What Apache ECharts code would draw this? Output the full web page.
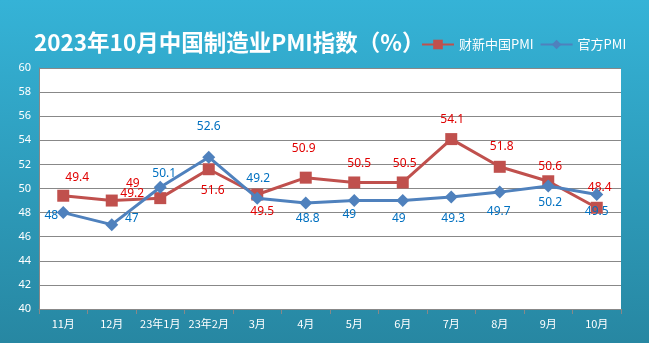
<!DOCTYPE html>
<html><head><meta charset="utf-8">
<script src="https://cdn.jsdelivr.net/npm/echarts@6/dist/echarts.min.js"></script>
<style>html,body{margin:0;padding:0;}#c{width:649px;height:343px;}</style>
</head><body><div id="c"></div>
<script>
const categories = ['11月','12月','23年1月','23年2月','3月','4月','5月','6月','7月','8月','9月','10月'];
const caixinPMI = [49.4, 49, 49.2, 51.6, 49.5, 50.9, 50.5, 50.5, 54.1, 51.8, 50.6, 48.4];
const officialPMI = [48, 47, 50.1, 52.6, 49.2, 48.8, 49, 49, 49.3, 49.7, 50.2, 49.5];
const yTicks = {min: 40, max: 60, interval: 2};
// label offsets (styling only)
const redOff = [[14,-18],[21,-17],[-28,-5],[4,21],[5,17],[-2,-29],[5,-19],[2,-19],[1,-20],[2,-20],[2,-15],[3,-20]];
const blueOff = [[-12,3],[20,-6],[4,-14],[0,-31],[1,-20],[2,16],[-5,14],[-4,18],[2,22],[-1,19],[2,16],[0,17]];

function mk(vals, offs) {
  return vals.map((v, i) => ({value: v, label: {offset: offs[i]}}));
}
const chart = echarts.init(document.getElementById('c'));
chart.setOption({
  animation: false,
  backgroundColor: {type:'linear', x:0, y:0, x2:0, y2:1, colorStops:[{offset:0,color:'#35b3d7'},{offset:1,color:'#2787a2'}]},
  title: {text: '2023年10月中国制造业PMI指数（%）', left: 29, top: 26,
    textStyle: {color:'#fff', fontSize: 22.5, fontWeight:'bold', fontFamily:'"Noto Sans CJK SC", sans-serif'}},
  legend: {left: 416, top: 33, itemWidth: 32, itemHeight: 12, itemGap: 6,
    textStyle: {color:'#fff', fontSize: 13, fontFamily:'"Noto Sans CJK SC", sans-serif'},
    data: ['财新中国PMI','官方PMI']},
  grid: {left: 39, right: 28, top: 68, bottom: 34, show: true, backgroundColor:'#fff', borderWidth: 0},
  xAxis: {type:'category', data: categories, boundaryGap: true,
    axisLine: {lineStyle:{color:'#888'}}, axisTick: {show:true, lineStyle:{color:'#888'}, length: 5},
    axisLabel: {color:'#fff', fontSize: 11, margin: 9, fontFamily:'"Noto Sans CJK SC", sans-serif', interval: 0}},
  yAxis: {type:'value', min: yTicks.min, max: yTicks.max, interval: yTicks.interval,
    axisLine: {show:true, lineStyle:{color:'#888'}}, axisTick:{show:false},
    splitLine: {lineStyle:{color:'#888', width: 1}},
    axisLabel: {color:'#fff', fontSize: 11, margin: 8, fontFamily:'"Noto Sans", sans-serif'}},
  series: [
    {name:'财新中国PMI', type:'line', data: mk(caixinPMI, redOff), symbol:'rect', symbolSize: 12,
      itemStyle:{color:'#c0504d'}, lineStyle:{color:'#c0504d', width: 3},
      label:{show:true, position:'inside', color:'#e00000', fontSize: 12, fontFamily:'"Noto Sans", sans-serif'}, z: 3},
    {name:'官方PMI', type:'line', data: mk(officialPMI, blueOff), symbol:'diamond', symbolSize: 13,
      itemStyle:{color:'#4f81bd'}, lineStyle:{color:'#4f81bd', width: 3},
      label:{show:true, position:'inside', color:'#0070c0', fontSize: 12, fontFamily:'"Noto Sans", sans-serif'}, z: 4}
  ]
});
</script></body></html>
